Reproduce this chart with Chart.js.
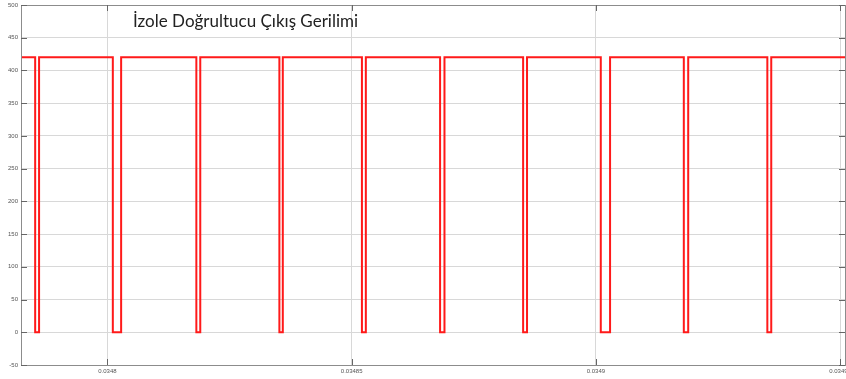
<!DOCTYPE html>
<html>
<head>
<meta charset="utf-8">
<script src="https://cdn.jsdelivr.net/npm/chart.js@4.4.1/dist/chart.umd.min.js"></script>
<style>
html,body{margin:0;padding:0;background:#fff;}
#wrap{width:846px;height:379px;position:relative;}
</style>
</head>
<body>
<div id="wrap"><canvas id="c" width="846" height="379"></canvas></div>
<script>
// ---- data ----
const chartTitle = 'İzole Doğrultucu Çıkış Gerilimi';
const startTime = 0.0347823;
const endTime = 0.034951;
const highLevel = 420;
const lowLevel = 0;
const fallTimes = [0.0347852, 0.0348011, 0.0348182, 0.0348352, 0.0348521, 0.0348681, 0.0348851, 0.0349010, 0.0349180, 0.0349351];
const riseTimes = [0.0347860, 0.0348028, 0.0348190, 0.0348359, 0.0348529, 0.0348690, 0.0348859, 0.0349029, 0.0349189, 0.0349359];
const xTickValues = [0.0348, 0.03485, 0.0349, 0.03495];
const xTickLabels = ['0.0348', '0.03485', '0.0349', '0.03495'];
const yTickValues = [-50, 0, 50, 100, 150, 200, 250, 300, 350, 400, 450, 500];

// build the waveform points
const points = [{x: startTime, y: highLevel}];
for (let i = 0; i < fallTimes.length; i++) {
  points.push({x: fallTimes[i], y: highLevel});
  points.push({x: fallTimes[i], y: lowLevel});
  points.push({x: riseTimes[i], y: lowLevel});
  points.push({x: riseTimes[i], y: highLevel});
}
points.push({x: endTime, y: highLevel});

const frameColor = '#8c8c8c';
const tickFont = {family: 'Liberation Sans', size: 6};

const framePlugin = {
  id: 'frame',
  afterDatasetsDraw(chart) {
    const {ctx, chartArea: a, scales} = chart;
    ctx.save();
    ctx.strokeStyle = frameColor;
    ctx.lineWidth = 1;
    ctx.strokeRect(Math.round(a.left) + 0.5, Math.round(a.top) + 0.5, Math.round(a.right - a.left), Math.round(a.bottom - a.top));
    ctx.strokeStyle = '#666';
    ctx.beginPath();
    scales.y.ticks.forEach(t => {
      const y = Math.round(scales.y.getPixelForValue(t.value)) + 0.5;
      ctx.moveTo(a.left, y); ctx.lineTo(a.left + 6, y);
      ctx.moveTo(a.right, y); ctx.lineTo(a.right - 6, y);
    });
    scales.x.ticks.forEach(t => {
      const x = Math.round(scales.x.getPixelForValue(t.value)) + 0.5;
      ctx.moveTo(x, a.bottom); ctx.lineTo(x, a.bottom - 6);
      ctx.moveTo(x, a.top); ctx.lineTo(x, a.top + 6);
    });
    ctx.stroke();
    // title text drawn inside the plot
    ctx.fillStyle = '#222';
    ctx.font = '17px Lato';
    ctx.textBaseline = 'middle';
    ctx.textAlign = 'left';
    ctx.fillText(chartTitle, 133, 22);
    ctx.restore();
  }
};

new Chart(document.getElementById('c'), {
  type: 'line',
  data: {
    datasets: [{
      data: points,
      borderColor: '#ff1a1a',
      borderWidth: 2,
      pointRadius: 0,
      fill: false,
      tension: 0
    }]
  },
  options: {
    responsive: false,
    animation: false,
    events: [],
    layout: {padding: {top: 5, right: 1, left: 0, bottom: 0}},
    plugins: {legend: {display: false}, tooltip: {enabled: false}, title: {display: false}},
    scales: {
      x: {
        type: 'linear',
        min: startTime,
        max: endTime,
        afterBuildTicks(scale) { scale.ticks = xTickValues.map(v => ({value: v})); },
        afterFit(scale) { scale.height = 14; scale.paddingLeft = 0; scale.paddingRight = 0; },
        ticks: {
          font: tickFont, color: '#555', padding: 3, maxRotation: 0, autoSkip: false,
          callback(v) { const i = xTickValues.indexOf(v); return i >= 0 ? xTickLabels[i] : ''; }
        },
        grid: {color: '#d8d8d8', lineWidth: 1, drawTicks: false},
        border: {display: false}
      },
      y: {
        type: 'linear',
        min: -50,
        max: 500,
        afterBuildTicks(scale) { scale.ticks = yTickValues.map(v => ({value: v})); },
        afterFit(scale) { scale.width = 21; scale.paddingTop = 0; scale.paddingBottom = 0; },
        ticks: {font: tickFont, color: '#555', padding: 3, autoSkip: false},
        grid: {color: '#d8d8d8', lineWidth: 1, drawTicks: false},
        border: {display: false}
      }
    }
  },
  plugins: [framePlugin]
});
</script>
</body>
</html>
